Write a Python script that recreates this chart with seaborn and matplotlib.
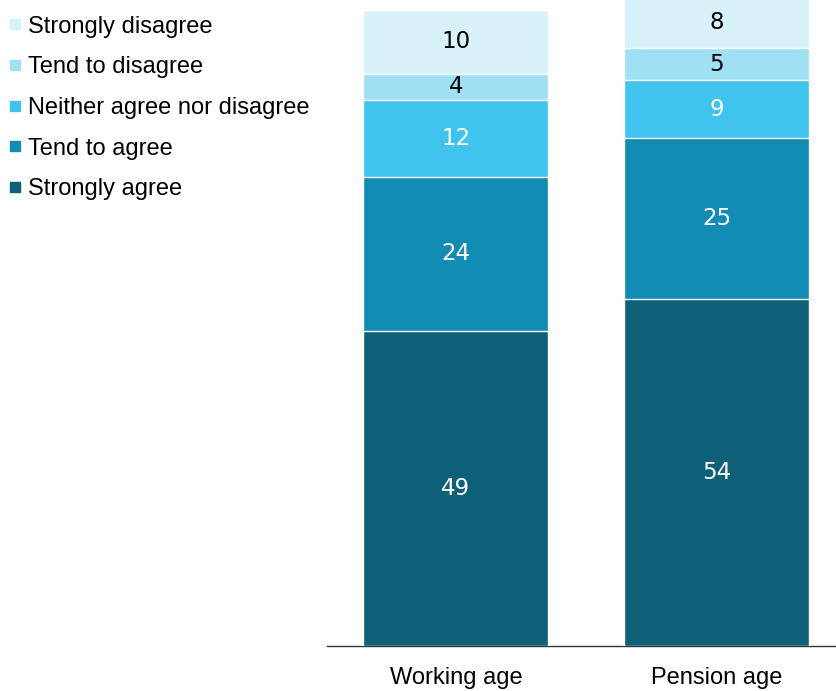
import matplotlib
matplotlib.use("Agg")
import matplotlib.pyplot as plt
import seaborn as sns
import pandas as pd
import numpy as np
from matplotlib.lines import Line2D

groups = ["Working age", "Pension age"]
responses = ["Strongly agree", "Tend to agree", "Neither agree nor disagree",
             "Tend to disagree", "Strongly disagree"]
strongly_agree = [49, 54]
tend_agree = [24, 25]
neither = [12, 9]
tend_disagree = [4, 5]
strongly_disagree = [10, 8]
colors = ["#0E6079", "#128BB5", "#40C3EC", "#A0E0F4", "#D8F2F9"]
label_colors = ["white", "white", "white", "black", "black"]

series = [strongly_agree, tend_agree, neither, tend_disagree, strongly_disagree]

sns.set_style("white")
plt.rcParams["text.color"] = "black"
plt.rcParams["xtick.color"] = "black"
plt.rcParams["xtick.labelcolor"] = "black"
fig = plt.figure(figsize=(8.37, 6.91), dpi=100)
ax = fig.add_axes([327/837, 1 - 646/691, 1 - 327/837, 646/691])

cum = np.cumsum(np.array(series), axis=0)
for i in range(len(series) - 1, -1, -1):
    df = pd.DataFrame({"group": groups, "value": cum[i]})
    sns.barplot(data=df, x="group", y="value", color=colors[i], width=0.709,
                edgecolor="white", linewidth=1.0, ax=ax, saturation=1, zorder=2 + (5 - i))

for i in range(len(series)):
    for j, g in enumerate(groups):
        v = series[i][j]
        center = cum[i][j] - v / 2
        ax.text(j, center, f"{v}", ha="center", va="center", fontsize=16.5,
                color=label_colors[i], family="DejaVu Sans", zorder=20)

ax.set_xlim(-0.494, 1.46)
ax.set_ylim(0, 100.5)
ax.set_ylabel("")
ax.set_xlabel("")
ax.set_yticks([])
for s in ["top", "right", "left"]:
    ax.spines[s].set_visible(False)
ax.spines["bottom"].set_color("#333333")
ax.spines["bottom"].set_linewidth(1.0)
ax.tick_params(axis="x", length=0, pad=15, labelsize=17, labelcolor="black")
for t in ax.get_xticklabels():
    t.set_family("Liberation Sans")

handles = [Line2D([0], [0], marker="s", linestyle="", markersize=7,
                  markerfacecolor=colors[i], markeredgecolor=colors[i])
           for i in range(len(responses) - 1, -1, -1)]
labels = responses[::-1]
leg = fig.legend(handles, labels, loc="upper left", bbox_to_anchor=(-0.008, 0.991),
           frameon=False, prop={"family": "Liberation Sans", "size": 17},
           handletextpad=0.05, handlelength=1.0, labelspacing=0.79,
           borderaxespad=0.2, borderpad=0.2)
for t in leg.get_texts():
    t.set_color("black")

fig.savefig("out.png", dpi=100)
